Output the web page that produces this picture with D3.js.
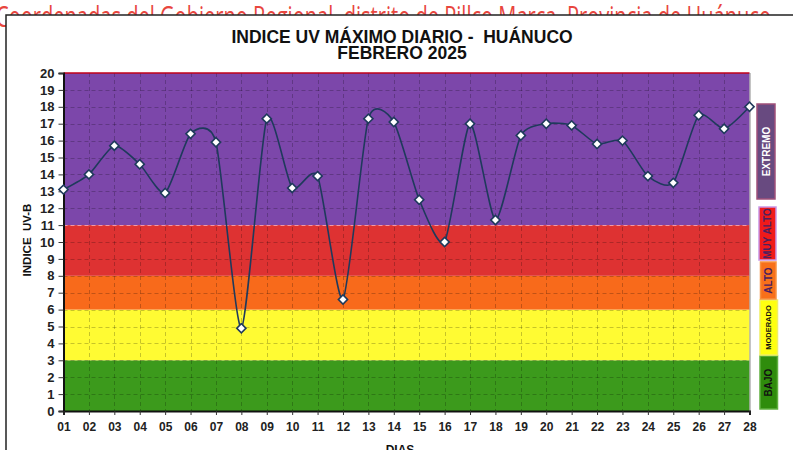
<!DOCTYPE html>
<html>
<head>
<meta charset="utf-8">
<script src="https://cdn.jsdelivr.net/npm/d3@7/dist/d3.min.js"></script>
<style>
  html, body { margin: 0; padding: 0; background: #fff; overflow: hidden; }
  svg { display: block; font-family: "Liberation Sans", Arial, sans-serif; }
</style>
</head>
<body>
<svg id="chart" width="793" height="450"></svg>
<script>
// ---------- DATA ----------
const days = ["01","02","03","04","05","06","07","08","09","10","11","12","13","14",
              "15","16","17","18","19","20","21","22","23","24","25","26","27","28"];
const uvValues = [13.1, 14.0, 15.7, 14.6, 12.9, 16.4, 15.9, 4.9, 17.3, 13.2, 13.9, 6.6, 17.3, 17.1,
                  12.5, 10.0, 17.0, 11.3, 16.3, 17.0, 16.9, 15.8, 16.0, 13.9, 13.5, 17.5, 16.7, 18.0];
const yTicks = d3.range(0, 21);
const bandLabels = ["BAJO", "MODERADO", "ALTO", "MUY ALTO", "EXTREMO"];
const bandMin = [0, 3, 6, 8, 11];
const bandMax = [3, 6, 8, 11, 20];
const titleLines = ["INDICE UV MÁXIMO DIARIO -  HUÁNUCO", "FEBRERO 2025"];
const yAxisTitle = "INDICE  UV-B";
const xAxisTitle = "DIAS";
const headerText = "Coordenadas del Gobierno Regional, distrito de Pillco Marca, Provincia de Huánuco";

// ---------- STYLES ----------
const bandColor = { "BAJO": "#3c9a1c", "MODERADO": "#fffb33", "ALTO": "#f86a1b", "MUY ALTO": "#de3232", "EXTREMO": "#7c47aa" };
const legendStyle = {
  "EXTREMO":  { fill: "#684a80", stroke: "#a0507a", text: "#ffffff", size: 10 },
  "MUY ALTO": { fill: "#f01a1a", stroke: "#c896e6", text: "#4a2060", size: 10 },
  "ALTO":     { fill: "#f8701a", stroke: "#f89040", text: "#4a2060", size: 10 },
  "MODERADO": { fill: "#ffff10", stroke: "#f0f060", text: "#111111", size: 7.5 },
  "BAJO":     { fill: "#2f8c0c", stroke: "#60b040", text: "#111111", size: 10 }
};
const legendBox = {
  "EXTREMO":  [757, 104, 18, 95],
  "MUY ALTO": [759, 207, 17, 53],
  "ALTO":     [760.5, 262, 15.5, 37],
  "MODERADO": [760, 300, 17.5, 55],
  "BAJO":     [760, 356, 17.5, 53]
};

const svg = d3.select("#chart");

// header text (mostly hidden behind the frame)
svg.append("text")
  .attr("x", -4).attr("y", 27)
  .attr("font-family", "'Open Sans', 'Liberation Sans', sans-serif")
  .attr("font-size", 29)
  .attr("fill", "#e8463e")
  .attr("textLength", 775)
  .attr("lengthAdjust", "spacingAndGlyphs")
  .text(headerText);

// frame
svg.append("rect")
  .attr("x", 6).attr("y", 15).attr("width", 800).attr("height", 450)
  .attr("fill", "#fff").attr("stroke", "#222").attr("stroke-width", 1.5);

// ---------- SCALES ----------
const x = d3.scalePoint().domain(days).range([63.5, 749.5]);
const y = d3.scaleLinear().domain([0, 20]).range([411, 73]);
const x0 = x(days[0]), x1 = x(days[days.length - 1]);

// bands
svg.append("g").selectAll("rect")
  .data(bandLabels)
  .join("rect")
  .attr("x", x0).attr("width", x1 - x0)
  .attr("y", (d, i) => y(bandMax[i]))
  .attr("height", (d, i) => y(bandMin[i]) - y(bandMax[i]))
  .attr("fill", d => bandColor[d]);

// grid
const grid = svg.append("g").attr("stroke", "rgba(0,0,0,0.22)").attr("stroke-dasharray", "4,3").attr("stroke-width", 1);
grid.selectAll("line.h")
  .data(yTicks.filter(t => t > 0 && t < 20 && t !== 11))
  .join("line").attr("class", "h")
  .attr("x1", x0).attr("x2", x1)
  .attr("y1", d => Math.round(y(d)) + 0.5).attr("y2", d => Math.round(y(d)) + 0.5);
grid.selectAll("line.v")
  .data(days.slice(1, -1))
  .join("line").attr("class", "v")
  .attr("y1", y(20)).attr("y2", y(0))
  .attr("x1", d => Math.round(x(d)) + 0.5).attr("x2", d => Math.round(x(d)) + 0.5);
svg.append("line")
  .attr("x1", x0).attr("x2", x1)
  .attr("y1", Math.round(y(11)) + 0.5).attr("y2", Math.round(y(11)) + 0.5)
  .attr("stroke", "rgba(255,190,200,0.7)").attr("stroke-dasharray", "4,3");

svg.append("line")
  .attr("x1", x0).attr("x2", x1).attr("y1", y(20)).attr("y2", y(20))
  .attr("stroke", "#c00018").attr("stroke-width", 1.5);
svg.append("line")
  .attr("x1", x1 + 0.5).attr("x2", x1 + 0.5).attr("y1", y(20)).attr("y2", y(0))
  .attr("stroke", "#8a8a8a").attr("stroke-width", 1);

// ---------- AXES ----------
const yAxis = svg.append("g")
  .attr("transform", `translate(${x0},0)`)
  .call(d3.axisLeft(y).tickValues(yTicks).tickSize(5).tickPadding(4).tickFormat(d3.format("d")));
yAxis.select(".domain").attr("stroke", "#111").attr("stroke-width", 2);
yAxis.selectAll(".tick line").attr("stroke", "#333");
yAxis.selectAll("text").attr("font-size", 13).attr("font-weight", "bold").attr("fill", "#222")
  .attr("font-family", "'Liberation Sans', Arial, sans-serif");

const xAxis = svg.append("g")
  .attr("transform", `translate(0,${y(0)})`)
  .call(d3.axisBottom(x).tickSize(4).tickPadding(7));
xAxis.select(".domain").attr("stroke", "#111").attr("stroke-width", 2);
xAxis.selectAll(".tick line").attr("stroke", "#333");
xAxis.selectAll("text").attr("font-size", 12).attr("font-weight", "bold").attr("fill", "#222")
  .attr("font-family", "'Liberation Sans', Arial, sans-serif");

// ---------- LINE ----------
const line = d3.line()
  .x((d, i) => x(days[i]))
  .y(d => y(d))
  .curve(d3.curveCardinal.tension(0.35));
svg.append("path")
  .datum(uvValues)
  .attr("d", line)
  .attr("fill", "none")
  .attr("stroke", "#1f3a5c")
  .attr("stroke-width", 1.6);

const sym = d3.symbol().type(d3.symbolSquare).size(42);
svg.append("g").selectAll("path")
  .data(uvValues)
  .join("path")
  .attr("d", sym)
  .attr("transform", (d, i) => `translate(${x(days[i])},${y(d)}) rotate(45)`)
  .attr("fill", "#fff")
  .attr("stroke", "#1f3a5c")
  .attr("stroke-width", 1.6);

// ---------- TITLES ----------
svg.append("g").selectAll("text")
  .data(titleLines)
  .join("text")
  .attr("x", 402).attr("y", (d, i) => 43 + i * 16)
  .attr("text-anchor", "middle")
  .attr("font-size", 17.5).attr("font-weight", "bold").attr("fill", "#111")
  .style("white-space", "pre")
  .text(d => d);

svg.append("text")
  .attr("transform", "translate(31,240) rotate(-90)")
  .attr("text-anchor", "middle")
  .attr("font-size", 11.5).attr("font-weight", "bold").attr("fill", "#111")
  .style("white-space", "pre")
  .text(yAxisTitle);

svg.append("text")
  .attr("x", 400).attr("y", 454)
  .attr("text-anchor", "middle")
  .attr("font-size", 12).attr("font-weight", "bold").attr("fill", "#111")
  .text(xAxisTitle);

// ---------- LEGEND ----------
const lg = svg.append("g").selectAll("g")
  .data(bandLabels)
  .join("g");
lg.append("rect")
  .attr("x", d => legendBox[d][0]).attr("y", d => legendBox[d][1])
  .attr("width", d => legendBox[d][2]).attr("height", d => legendBox[d][3])
  .attr("fill", d => legendStyle[d].fill)
  .attr("stroke", d => legendStyle[d].stroke).attr("stroke-width", 1.5);
lg.append("text")
  .attr("transform", d => `translate(${legendBox[d][0] + legendBox[d][2] / 2},${legendBox[d][1] + legendBox[d][3] / 2}) rotate(-90)`)
  .attr("text-anchor", "middle")
  .attr("dominant-baseline", "central")
  .attr("font-size", d => legendStyle[d].size)
  .attr("font-weight", "bold")
  .attr("fill", d => legendStyle[d].text)
  .text(d => d);
</script>
</body>
</html>
